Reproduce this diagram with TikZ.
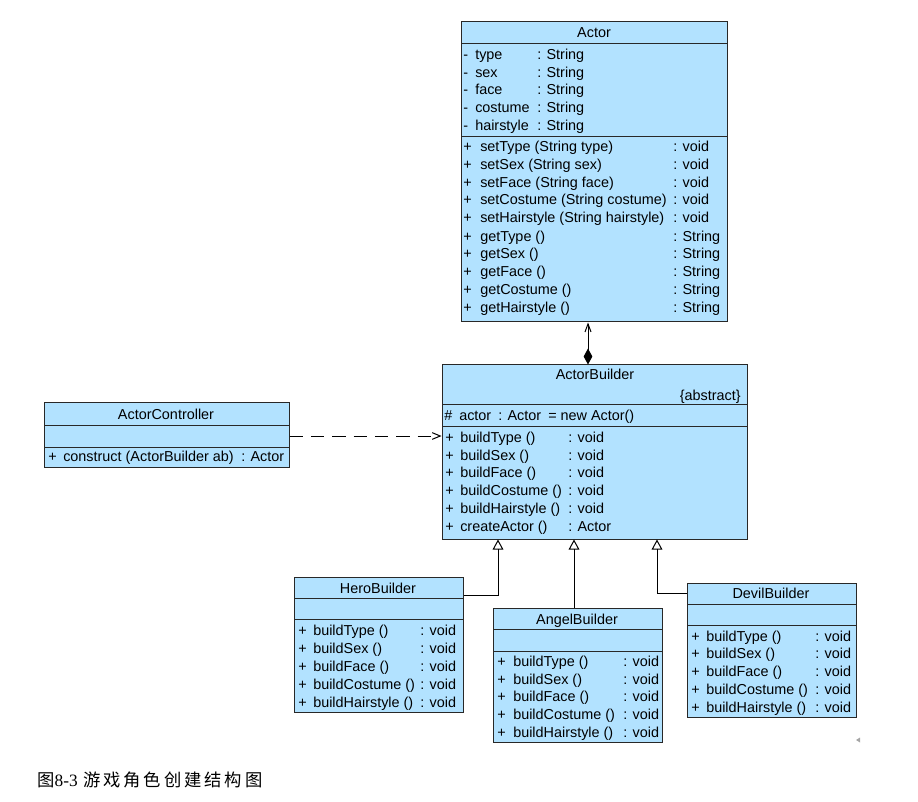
\documentclass[tikz,border=0pt]{standalone}
\usepackage{fontspec}
\setmainfont{Liberation Sans}
\newfontfamily\cjk[LetterSpace=17]{Noto Sans CJK SC}
\newfontfamily\capserif{Liberation Serif}
\usetikzlibrary{arrows.meta,fit}
\definecolor{boxc}{RGB}{178,226,255}
\definecolor{linec}{RGB}{40,40,40}
\begin{document}
\begin{tikzpicture}[x=0.75pt,y=-0.75pt,font=\fontsize{10.8}{12}\selectfont,
  cls/.style={draw=linec,fill=boxc,line width=0.75pt,inner sep=0pt},
  txt/.style={inner sep=0pt,anchor=base west},
  ttl/.style={inner sep=0pt,anchor=base},
  sep/.style={draw=linec,line width=0.75pt},
  conn/.style={draw=black,line width=0.75pt},
  gen/.style={conn,-{Triangle[open,length=7.5pt,width=8pt]}}]
\useasboundingbox (0,0) rectangle (918,802);

% ---------------- Actor ----------------
\node[cls,fit={(461,22) (727,322)}] (actor) {};
\draw[sep] (461,44) -- (727,44);
\draw[sep] (461,137) -- (727,137);
\node[ttl] (actT) at (594,38) {Actor};
\foreach \n/\y [count=\i] in {type/55,sex/73,face/90,costume/108,hairstyle/126}{
  \node[txt] (actAm\i) at (463,\y+5) {-};
  \node[txt] (actAn\i) at (475,\y+5) {\n};
  \node[txt] (actAt\i) at (537,\y+5) {: String};
}
\foreach \n/\t/\y [count=\i] in {
  {setType (String type)}/void/147,
  {setSex (String sex)}/void/165,
  {setFace (String face)}/void/183,
  {setCostume (String costume)}/void/200,
  {setHairstyle (String hairstyle)}/void/218,
  {getType ()}/String/237,
  {getSex ()}/String/254,
  {getFace ()}/String/272,
  {getCostume ()}/String/290,
  {getHairstyle ()}/String/308}{
  \node[txt] (actMm\i) at (463,\y+5) {+};
  \node[txt] (actMn\i) at (480,\y+5) {\n};
  \node[txt] (actMt\i) at (673,\y+5) {: \t};
}

% ---------------- ActorBuilder ----------------
\node[cls,fit={(442,365) (747,539)}] (ab) {};
\draw[sep] (442,405) -- (747,405);
\draw[sep] (442,426) -- (747,426);
\node[ttl] (abT) at (595,380) {ActorBuilder};
\node[inner sep=0pt,anchor=base east] (abS) at (741,401) {\{abstract\}};
\node[txt] (abAm) at (444,421) {\#};
\node[txt] (abAn) at (459,421) {actor};
\node[txt] (abAt) at (498,421) {: Actor};
\node[txt] (abAv) at (548,421) {= new Actor()};
\foreach \n/\t/\y [count=\i] in {
  {buildType ()}/void/437,
  {buildSex ()}/void/455,
  {buildFace ()}/void/472,
  {buildCostume ()}/void/490,
  {buildHairstyle ()}/void/508,
  {createActor ()}/Actor/526}{
  \node[txt] (abMm\i) at (445,\y+5) {+};
  \node[txt] (abMn\i) at (460,\y+5) {\n};
  \node[txt] (abMt\i) at (568,\y+5) {: \t};
}

% ---------------- ActorController ----------------
\node[cls,fit={(44,403) (289,467)}] (ac) {};
\draw[sep] (44,425) -- (289,425);
\draw[sep] (44,447) -- (289,447);
\node[ttl] (acT) at (166,419) {ActorController};
\node[txt] (acMm) at (48,461) {+};
\node[txt] (acMn) at (63,461) {construct (ActorBuilder ab)};
\node[txt] (acMt) at (241,461) {: Actor};

% ---------------- HeroBuilder ----------------
\node[cls,fit={(294,577) (463,712)}] (hero) {};
\draw[sep] (294,598) -- (463,598);
\draw[sep] (294,619) -- (463,619);
\node[ttl] (heroT) at (378,593) {HeroBuilder};
\foreach \n/\y [count=\i] in {{buildType ()}/630,{buildSex ()}/648,{buildFace ()}/666,{buildCostume ()}/684,{buildHairstyle ()}/702}{
  \node[txt] (heroMm\i) at (298,\y+5) {+};
  \node[txt] (heroMn\i) at (313,\y+5) {\n};
  \node[txt] (heroMt\i) at (420,\y+5) {: void};
}

% ---------------- AngelBuilder ----------------
\node[cls,fit={(493,608) (662,742)}] (angel) {};
\draw[sep] (493,629) -- (662,629);
\draw[sep] (493,651) -- (662,651);
\node[ttl] (angelT) at (577,624) {AngelBuilder};
\foreach \n/\y [count=\i] in {{buildType ()}/661,{buildSex ()}/679,{buildFace ()}/696,{buildCostume ()}/714,{buildHairstyle ()}/732}{
  \node[txt] (angelMm\i) at (497,\y+5) {+};
  \node[txt] (angelMn\i) at (513,\y+5) {\n};
  \node[txt] (angelMt\i) at (623,\y+5) {: void};
}

% ---------------- DevilBuilder ----------------
\node[cls,fit={(687,583) (856,717)}] (devil) {};
\draw[sep] (687,604) -- (856,604);
\draw[sep] (687,625) -- (856,625);
\node[ttl] (devilT) at (771,598) {DevilBuilder};
\foreach \n/\y [count=\i] in {{buildType ()}/636,{buildSex ()}/653,{buildFace ()}/671,{buildCostume ()}/689,{buildHairstyle ()}/707}{
  \node[txt] (devilMm\i) at (691,\y+5) {+};
  \node[txt] (devilMn\i) at (706,\y+5) {\n};
  \node[txt] (devilMt\i) at (815,\y+5) {: void};
}

% ---------------- connectors ----------------
\coordinate (compx) at (588,0);
\draw[conn,{Diamond[length=12pt,width=6.5pt]}-{Straight Barb[length=6pt,width=4.5pt]}]
  (compx |- ab.north) -- (compx |- actor.south);
\coordinate (depy) at (0,436);
\draw[conn,dash pattern=on 10pt off 6pt,-{Straight Barb[length=6pt,width=5pt]}]
  (ac.east |- depy) -- (ab.west |- depy);
\coordinate (heroj) at (498,595);
\draw[gen] (hero.east |- heroj) -- (heroj) -- (heroj |- ab.south);
\coordinate (angelj) at (574,0);
\draw[gen] (angelj |- angel.north) -- (angelj |- ab.south);
\coordinate (devilj) at (657,593);
\draw[gen] (devil.west |- devilj) -- (devilj) -- (devilj |- ab.south);

% small marker
\fill[gray!70] (856,740) -- (860,737.5) -- (860,742.5) -- cycle;

% ---------------- caption ----------------
\node[inner sep=0pt,anchor=base west,font=\fontsize{13}{15}\selectfont] (cap) at (37,786)
  {{\cjk 图}{\capserif 8-3}\hspace{4pt}{\cjk 游戏角色创建结构图}};
\end{tikzpicture}
\end{document}
